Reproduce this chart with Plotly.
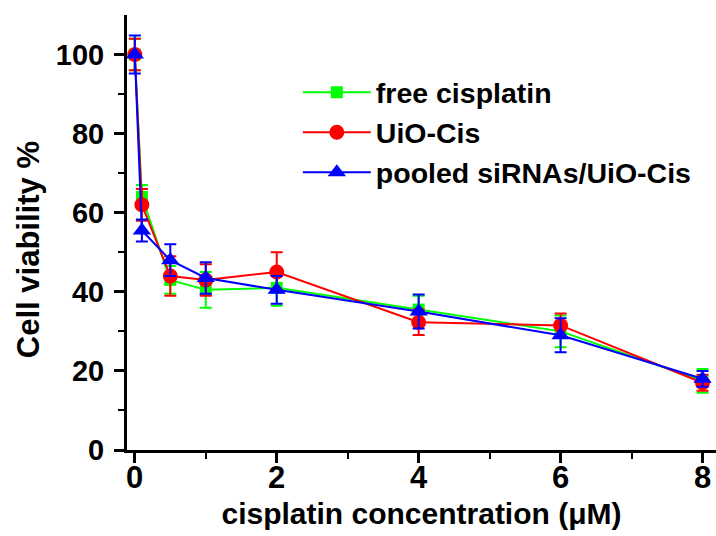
import plotly.graph_objects as go

# Cisplatin concentration (µM)
conc = [0, 0.1, 0.5, 1, 2, 4, 6, 8]
conc_ticks = [0, 2, 4, 6, 8]
conc_tick_labels = ["0", "2", "4", "6", "8"]

# Cell viability (%) and standard deviations for each formulation
free_cis = [100, 64, 43, 40.5, 41, 35.5, 30, 17.5]
free_cis_sd = [4, 3, 3.5, 4.5, 4.5, 3.5, 4, 3]

uio_cis = [100, 62, 44, 43, 45, 32.3, 31.5, 17]
uio_cis_sd = [4, 4, 5, 4, 5, 3.2, 3, 2]

sirna_uio_cis = [100, 55.5, 48, 43.5, 40.5, 35, 29, 18]
sirna_uio_cis_sd = [4.8, 2.8, 4, 4, 3.5, 4.3, 4.3, 2]

series = [
    ("free cisplatin", free_cis, free_cis_sd, "#00ff00", "square", 12),
    ("UiO-Cis", uio_cis, uio_cis_sd, "#ff0000", "circle", 15),
    ("pooled siRNAs/UiO-Cis", sirna_uio_cis, sirna_uio_cis_sd, "#0000ff", "triangle-up", 16),
]

FONT = "Liberation Sans, Arial, sans-serif"

fig = go.Figure()
for name, vals, sd, color, symbol, size in series:
    fig.add_trace(go.Scatter(
        x=conc, y=vals, name=name, mode="lines+markers",
        line=dict(color=color, width=2),
        marker=dict(symbol=symbol, size=size, color=color, line=dict(width=0)),
        error_y=dict(type="data", array=sd, visible=True, color=color,
                     thickness=2, width=6),
    ))

axis_common = dict(
    showline=True, linecolor="black", linewidth=3,
    ticks="outside", ticklen=10, tickwidth=3, tickcolor="black",
    showgrid=False, zeroline=False, mirror=False,
    tickfont=dict(family=FONT, size=29, color="black", weight="bold"),
)

# x tick labels sit close under the axis, so they are placed as annotations
fig.update_xaxes(
    range=[-0.11, 8.19], tickvals=conc_ticks, showticklabels=False,
    minor=dict(ticks="outside", ticklen=6, tickwidth=2, tickcolor="black",
               tickvals=[1, 3, 5, 7]),
    title=dict(text="cisplatin concentration (μM)", standoff=41,
               font=dict(family=FONT, size=30, color="black", weight="bold")),
    **axis_common,
)
for xv, lab in zip(conc_ticks, conc_tick_labels):
    fig.add_annotation(
        x=xv, xref="x", y=0, yref="paper", text=lab, showarrow=False,
        xanchor="center", yanchor="middle", yshift=-27,
        font=dict(family=FONT, size=31, color="black", weight="bold"),
    )

fig.update_yaxes(
    range=[0, 110], tickvals=[0, 20, 40, 60, 80, 100],
    ticklabelstandoff=4,
    minor=dict(ticks="outside", ticklen=6, tickwidth=2, tickcolor="black",
               tickvals=[10, 30, 50, 70, 90]),
    **axis_common,
)

# y-axis title, set slightly below the vertical middle of the axis
fig.add_annotation(
    text="Cell viability %", textangle=-90, showarrow=False,
    xref="paper", yref="paper", x=-0.166, y=0.46,
    xanchor="center", yanchor="middle",
    font=dict(family=FONT, size=31, color="black", weight="bold"),
)

fig.update_layout(
    width=716, height=536,
    margin=dict(l=127, r=0, t=15, b=86),
    plot_bgcolor="white", paper_bgcolor="white",
    legend=dict(x=0.29, y=0.88, xanchor="left", yanchor="top",
                bgcolor="rgba(0,0,0,0)", itemwidth=68, tracegroupgap=0,
                font=dict(family=FONT, size=28.5, color="black", weight="bold")),
)

fig.write_html("out.html")
